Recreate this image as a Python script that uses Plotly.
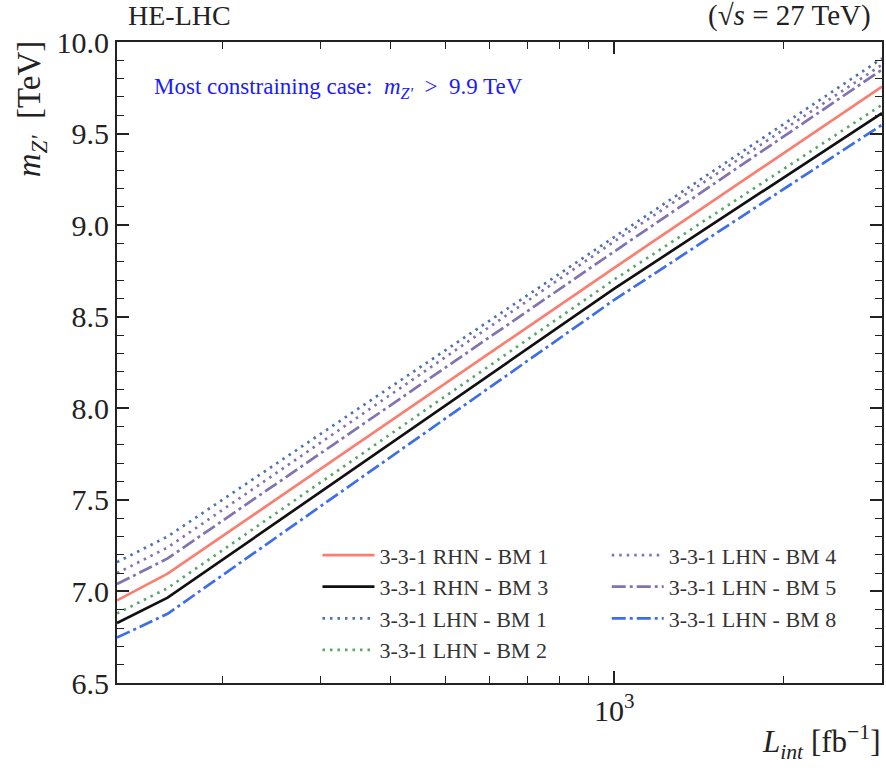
import plotly.graph_objects as go

# Data
L = [130, 160, 1000, 3000]
rhn_bm1 = [6.951, 7.097, 8.767, 9.757]
rhn_bm3 = [6.827, 6.966, 8.653, 9.612]
lhn_bm1 = [7.160, 7.300, 8.935, 9.910]
lhn_bm2 = [6.880, 7.018, 8.703, 9.657]
lhn_bm4 = [7.100, 7.240, 8.911, 9.876]
lhn_bm5 = [7.040, 7.180, 8.856, 9.849]
lhn_bm8 = [6.748, 6.878, 8.592, 9.548]

x_minor = [200, 300, 400, 500, 600, 700, 800, 900, 2000, 3000]

FONT = "Liberation Serif, Times New Roman, serif"
DOT = "2.5px,5px"
DASHDOT = "14px,4px,3px,4px"

series = [
    ("3-3-1 RHN - BM 1", rhn_bm1, "#fa7f70", "solid", "legend"),
    ("3-3-1 RHN - BM 3", rhn_bm3, "#111111", "solid", "legend"),
    ("3-3-1 LHN - BM 1", lhn_bm1, "#4c72b0", DOT, "legend"),
    ("3-3-1 LHN - BM 2", lhn_bm2, "#55a868", DOT, "legend"),
    ("3-3-1 LHN - BM 4", lhn_bm4, "#8172b2", DOT, "legend2"),
    ("3-3-1 LHN - BM 5", lhn_bm5, "#8172b2", DASHDOT, "legend2"),
    ("3-3-1 LHN - BM 8", lhn_bm8, "#3b6ee8", DASHDOT, "legend2"),
]

fig = go.Figure()
for name, ys, col, dash, lg in series:
    fig.add_trace(go.Scatter(x=L, y=ys, mode="lines", name=name, legend=lg,
                             line=dict(color=col, width=2.7, dash=dash)))

axis_common = dict(showline=True, linecolor="#222", linewidth=2, mirror="allticks",
                   ticks="inside", tickcolor="#222", tickwidth=1.5, ticklen=12,
                   showgrid=False, zeroline=False,
                   tickfont=dict(family=FONT, size=30, color="#222"))

fig.update_xaxes(type="log", range=[2.1139, 3.4771], tickmode="array",
                 tickvals=[1000], ticktext=["10<sup>3</sup>"],
                 minor=dict(tickmode="array", tickvals=x_minor, ticks="inside",
                            ticklen=7, tickcolor="#222", tickwidth=1.2),
                 **axis_common)
fig.update_yaxes(range=[6.5, 10.0], tickmode="linear", tick0=6.5, dtick=0.5,
                 tickformat=".1f",
                 minor=dict(dtick=0.1, ticks="inside", ticklen=7,
                            tickcolor="#222", tickwidth=1.2),
                 **axis_common)

legend_common = dict(font=dict(family=FONT, size=22, color="#333"),
                     bgcolor="rgba(0,0,0,0)", xanchor="left", yanchor="top",
                     tracegroupgap=0, itemwidth=52)
fig.update_layout(
    width=886, height=768,
    margin=dict(l=117, r=2, t=42, b=85),
    paper_bgcolor="white", plot_bgcolor="white",
    font=dict(family=FONT, color="#222"),
    showlegend=True,
    legend=dict(x=(318 - 117) / 767, y=0.232, **legend_common),
    legend2=dict(x=(608 - 117) / 767, y=0.232, **legend_common),
)

fig.add_annotation(text="HE-LHC", xref="paper", yref="paper",
                   x=(126 - 117) / 767, y=1 + (42 - 33) / 640.4,
                   xanchor="left", yanchor="bottom", showarrow=False,
                   font=dict(family=FONT, size=28, color="#222"))
fig.add_annotation(text="(√<i>s</i> = 27 TeV)", xref="paper", yref="paper",
                   x=(875 - 117) / 767, y=1 + (42 - 34) / 640.4,
                   xanchor="right", yanchor="bottom", showarrow=False,
                   font=dict(family=FONT, size=29, color="#222"))
fig.add_annotation(text="Most constraining case:  <i>m</i><sub><i>Z'</i></sub>  &gt;  9.9 TeV",
                   xref="paper", yref="paper",
                   x=(152 - 117) / 767, y=1 - (88 - 42) / 640.4,
                   xanchor="left", yanchor="middle", showarrow=False,
                   font=dict(family=FONT, size=23, color="#1a1aff"))
fig.add_annotation(text="<i>m</i><sub><i>Z'</i></sub>  [TeV]", xref="paper", yref="paper",
                   x=(32 - 117) / 767, y=1 + 3 / 640.4, textangle=-90,
                   xanchor="center", yanchor="top", showarrow=False,
                   font=dict(family=FONT, size=33, color="#222"))
fig.add_annotation(text="<i>L<sub>int</sub></i> [fb<sup>−1</sup>]", xref="paper", yref="paper",
                   x=1, y=-(766 - 683) / 640.4,
                   xanchor="right", yanchor="bottom", showarrow=False,
                   font=dict(family=FONT, size=31, color="#222"))

fig.write_html("out.html")
